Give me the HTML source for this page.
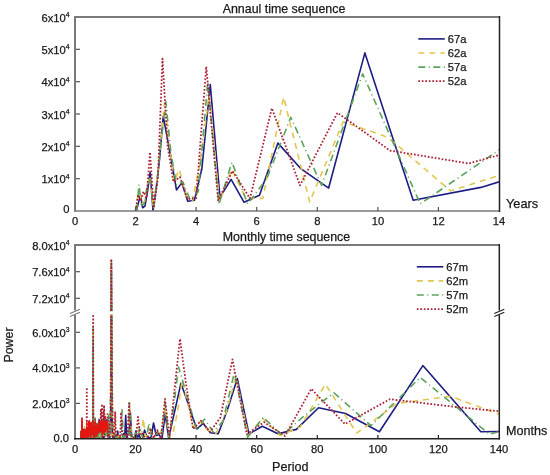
<!DOCTYPE html>
<html><head><meta charset="utf-8"><style>
html,body{margin:0;padding:0;background:#fff;}
body{width:550px;height:475px;overflow:hidden;}
svg{display:block;font-family:"Liberation Sans", sans-serif;}
svg{will-change:transform;}
text{stroke:#1a1a1a;stroke-width:0.25px;}
</style></head><body>
<svg width="550" height="475" viewBox="0 0 550 475">
<defs>
<clipPath id="c1"><rect x="75.0" y="17.0" width="424.0" height="194.0"/></clipPath>
<clipPath id="c2"><rect x="75.0" y="245.0" width="424.0" height="194.0"/></clipPath>
<clipPath id="c2d"><rect x="75.0" y="421" width="424.0" height="18.0"/></clipPath>
</defs>
<rect width="550" height="475" fill="#fff"/>
<polyline clip-path="url(#c1)" fill="none" stroke="#1c1c84" stroke-width="1.6" stroke-linejoin="round" points="136.49,211.00 138.41,202.92 140.46,194.83 142.64,207.77 144.97,206.15 147.47,191.60 150.15,172.20 153.04,211.00 156.17,188.37 159.55,159.27 163.22,116.26 167.23,137.60 171.63,161.85 176.46,189.98 181.80,182.87 187.73,201.30 194.36,200.33 201.82,168.97 210.28,84.58 219.94,197.42 231.09,179.31 244.10,202.27 259.47,195.16 277.91,143.10 300.46,168.32 328.64,188.04 364.88,52.89 413.19,200.33 480.83,187.40 582.29,156.68"/>
<polyline clip-path="url(#c1)" fill="none" stroke="#e2c650" stroke-width="1.6" stroke-dasharray="6 5" stroke-linejoin="round" points="135.57,211.00 137.59,198.07 139.75,191.60 142.06,204.53 144.54,201.30 147.22,185.13 150.11,175.43 153.24,207.77 156.64,181.90 160.35,146.33 164.41,102.68 168.89,139.87 173.83,181.90 179.32,169.29 185.45,194.83 192.36,201.30 200.18,162.50 209.12,94.60 219.44,201.30 231.48,168.97 245.70,198.07 262.77,198.39 283.63,97.19 309.71,201.95 343.24,121.76 387.95,137.28 450.54,190.95 544.43,160.88"/>
<polyline clip-path="url(#c1)" fill="none" stroke="#5ca25c" stroke-width="1.6" stroke-dasharray="7 3.5 1 3.5" stroke-linejoin="round" points="136.65,211.00 138.94,184.49 141.40,204.53 144.05,204.53 146.93,188.37 150.06,178.67 153.47,207.77 157.20,178.67 161.31,139.87 165.86,101.71 170.90,152.80 176.55,185.13 182.89,181.90 190.09,199.68 198.31,191.60 207.79,81.67 218.86,204.53 231.94,162.18 247.63,203.89 266.81,178.67 290.79,117.23 321.61,185.46 362.71,73.91 420.26,203.89 506.57,144.72"/>
<polyline clip-path="url(#c1)" fill="none" stroke="#ab2236" stroke-width="1.8" stroke-dasharray="1.7 1.8" stroke-linejoin="round" points="135.57,211.00 137.99,194.83 140.62,201.30 143.47,191.60 146.58,198.07 149.99,152.15 153.74,207.77 157.89,178.67 162.49,58.71 167.64,146.33 173.43,181.90 179.99,177.05 187.49,199.04 196.14,198.07 206.24,66.47 218.17,200.65 232.49,170.91 249.98,198.39 271.86,108.18 299.98,185.46 337.48,112.71 389.97,150.54 468.71,163.47 599.95,126.93"/>
<polyline clip-path="url(#c2)" fill="none" stroke="#1c1c84" stroke-width="1.6" stroke-linejoin="round" points="81.06,434.35 81.07,438.82 81.09,437.14 81.10,436.56 81.12,436.15 81.13,435.74 81.15,432.87 81.16,435.10 81.18,435.04 81.20,433.18 81.21,432.06 81.23,438.54 81.24,437.18 81.26,434.19 81.28,433.85 81.29,437.86 81.31,435.88 81.32,437.72 81.34,434.03 81.36,433.63 81.37,432.95 81.39,432.47 81.41,433.21 81.42,432.50 81.44,436.72 81.46,438.77 81.48,432.44 81.49,437.98 81.51,431.99 81.53,436.70 81.55,431.78 81.56,434.96 81.58,438.16 81.60,436.49 81.62,432.55 81.63,431.27 81.65,432.91 81.67,437.64 81.69,431.55 81.71,438.39 81.73,432.76 81.75,435.06 81.76,437.79 81.78,432.23 81.80,435.13 81.82,432.78 81.84,436.72 81.86,434.01 81.88,438.41 81.90,438.44 81.92,434.67 81.94,438.43 81.96,437.09 81.98,438.84 82.00,437.08 82.02,434.32 82.04,434.46 82.06,434.73 82.08,436.38 82.10,436.62 82.12,431.99 82.14,432.35 82.16,436.51 82.18,436.43 82.20,436.59 82.23,435.94 82.25,431.62 82.27,433.95 82.29,433.88 82.31,435.48 82.33,431.28 82.36,436.80 82.38,438.36 82.40,437.07 82.42,436.59 82.45,434.75 82.47,436.97 82.49,433.81 82.52,433.36 82.54,434.55 82.56,430.97 82.59,433.94 82.61,437.24 82.63,438.09 82.66,431.06 82.68,431.06 82.71,431.52 82.73,438.48 82.75,436.43 82.78,435.31 82.80,434.11 82.83,436.58 82.85,430.95 82.88,438.91 82.91,438.68 82.93,433.66 82.96,438.18 82.98,435.09 83.01,436.92 83.04,436.59 83.06,431.55 83.09,431.05 83.12,435.90 83.14,431.54 83.17,438.16 83.20,432.90 83.23,437.02 83.25,437.63 83.28,438.05 83.31,435.55 83.34,430.90 83.37,437.04 83.40,438.67 83.43,431.75 83.45,438.06 83.48,438.25 83.51,432.73 83.54,438.88 83.57,431.25 83.60,431.63 83.63,436.41 83.67,434.72 83.70,430.34 83.73,433.72 83.76,430.66 83.79,436.50 83.82,438.23 83.85,436.91 83.89,433.66 83.92,435.46 83.95,431.68 83.99,433.24 84.02,435.81 84.05,431.25 84.09,431.62 84.12,430.89 84.15,438.32 84.19,438.63 84.22,438.02 84.26,433.84 84.29,437.73 84.33,430.70 84.37,430.07 84.40,433.35 84.44,430.88 84.47,436.27 84.51,436.31 84.55,436.10 84.59,432.36 84.62,434.26 84.66,433.01 84.70,437.32 84.74,431.81 84.78,437.66 84.82,438.33 84.86,433.28 84.90,437.15 84.94,431.22 84.98,435.18 85.02,433.58 85.06,432.04 85.10,436.29 85.15,431.64 85.19,432.39 85.23,433.68 85.27,437.32 85.32,436.32 85.36,432.82 85.41,431.21 85.45,436.41 85.50,437.42 85.54,438.85 85.59,431.78 85.63,432.00 85.68,436.39 85.73,434.99 85.77,436.62 85.82,433.65 85.87,438.16 85.92,437.44 85.97,435.53 86.02,433.59 86.07,437.35 86.12,436.22 86.17,435.97 86.22,434.92 86.27,433.35 86.33,431.18 86.38,432.04 86.43,437.62 86.49,434.42 86.54,428.72 86.60,430.25 86.65,438.60 86.71,429.61 86.76,438.91 86.82,436.30 86.88,434.55 86.94,431.06 86.99,428.97 87.05,435.69 87.11,429.83 87.17,435.73 87.24,429.65 87.30,428.66 87.36,435.81 87.42,438.37 87.49,432.26 87.55,435.98 87.62,433.59 87.68,435.29 87.75,432.91 87.82,436.90 87.88,434.15 87.95,431.51 88.02,429.84 88.09,436.93 88.16,433.88 88.23,432.63 88.31,432.38 88.38,437.50 88.45,432.25 88.53,436.88 88.60,438.74 88.68,438.70 88.76,427.19 88.84,430.24 88.91,435.98 88.99,431.62 89.07,425.99 89.16,437.43 89.24,436.28 89.32,432.91 89.41,433.41 89.49,438.66 89.58,431.88 89.67,434.16 89.76,432.17 89.85,428.31 89.94,434.90 90.03,426.55 90.12,431.08 90.22,436.60 90.31,437.96 90.41,433.82 90.51,429.12 90.61,437.27 90.71,435.05 90.81,427.06 90.91,438.77 91.02,438.74 91.13,437.68 91.23,428.36 91.34,425.69 91.45,434.96 91.56,428.83 91.68,429.07 91.79,429.06 91.91,428.28 92.03,431.72 92.15,436.79 92.27,436.14 92.39,438.65 92.52,433.82 92.64,432.08 92.77,431.95 92.90,432.91 93.04,435.09 93.17,341.21 93.31,433.52 93.45,433.30 93.59,436.98 93.73,433.24 93.88,430.21 94.02,438.43 94.17,434.69 94.33,433.33 94.48,433.76 94.64,427.56 94.80,428.53 94.96,426.47 95.12,427.40 95.29,427.92 95.46,438.92 95.64,426.09 95.81,431.61 95.99,435.37 96.17,432.81 96.36,431.21 96.55,429.63 96.74,433.95 96.94,436.72 97.14,430.54 97.34,433.69 97.55,427.36 97.76,424.17 97.97,431.42 98.19,436.43 98.41,433.06 98.64,430.10 98.87,424.25 99.11,419.44 99.35,438.35 99.60,438.61 99.85,432.50 100.10,433.78 100.36,432.09 100.63,428.84 100.90,432.37 101.18,433.27 101.47,434.11 101.76,431.93 102.06,431.63 102.36,433.25 102.67,437.32 102.99,421.22 103.31,431.28 103.65,435.95 103.99,438.57 104.34,431.60 104.69,433.98 105.06,430.59 105.44,430.23 105.82,432.73 106.22,435.76 106.62,431.66 107.04,419.44 107.47,434.38 107.91,433.54 108.36,435.85 108.82,435.76 109.30,423.00 109.79,438.91 110.29,434.40 110.81,412.33 111.34,266.34 111.89,403.44 112.46,437.07 113.05,434.63 113.65,439.00 114.27,438.48 114.92,437.69 115.58,438.70 116.27,438.67 116.98,438.66 117.72,431.00 118.48,437.81 119.27,438.69 120.09,438.99 120.94,437.89 121.83,438.71 122.74,438.10 123.70,433.51 124.69,437.18 125.73,415.35 126.81,438.99 127.93,433.94 129.11,434.12 130.34,412.33 131.63,435.76 132.98,437.77 134.39,439.00 135.87,431.00 137.44,437.83 139.08,434.65 140.81,438.99 142.64,438.95 144.57,430.11 146.62,436.36 148.79,437.74 151.09,437.47 153.55,423.00 156.17,435.37 158.96,434.53 161.96,438.89 165.18,413.93 168.65,438.11 172.40,421.40 176.46,403.44 180.87,383.35 185.68,396.51 190.95,412.33 196.75,429.04 203.16,423.35 210.28,432.78 218.23,433.67 227.19,410.55 237.33,378.55 248.93,434.02 262.31,426.20 277.91,433.67 296.36,429.40 318.50,407.71 345.55,413.57 379.37,431.71 422.85,365.57 480.83,431.71 561.99,431.00"/>
<polyline clip-path="url(#c2)" fill="none" stroke="#e2c650" stroke-width="1.6" stroke-dasharray="6 5" stroke-linejoin="round" points="81.06,435.50 81.07,438.98 81.09,438.48 81.11,432.04 81.12,437.52 81.14,435.64 81.16,434.92 81.17,437.17 81.19,435.87 81.21,434.59 81.22,438.01 81.24,433.21 81.26,437.62 81.28,434.78 81.29,433.64 81.31,437.56 81.33,433.48 81.35,433.13 81.37,438.28 81.38,432.63 81.40,432.48 81.42,434.63 81.44,433.75 81.46,432.21 81.47,438.88 81.49,433.12 81.51,433.90 81.53,432.07 81.55,433.42 81.57,435.35 81.59,438.91 81.61,434.02 81.63,431.33 81.65,433.77 81.67,435.84 81.69,434.12 81.71,437.23 81.73,432.31 81.75,433.02 81.77,433.83 81.79,433.15 81.81,436.40 81.83,431.45 81.85,435.29 81.87,433.46 81.89,431.65 81.91,433.42 81.93,435.82 81.95,435.21 81.98,435.00 82.00,437.58 82.02,432.08 82.04,434.33 82.06,438.77 82.09,435.54 82.11,437.86 82.13,434.50 82.15,432.86 82.18,431.19 82.20,435.83 82.22,433.48 82.25,435.38 82.27,431.98 82.29,436.98 82.32,433.39 82.34,434.95 82.36,438.25 82.39,433.07 82.41,431.54 82.44,434.75 82.46,438.12 82.49,434.89 82.51,435.40 82.54,433.42 82.56,433.51 82.59,437.10 82.61,436.57 82.64,437.95 82.66,433.69 82.69,430.90 82.72,431.66 82.74,438.29 82.77,438.45 82.80,435.59 82.82,437.80 82.85,430.83 82.88,436.08 82.91,438.21 82.93,432.30 82.96,434.20 82.99,431.47 83.02,433.44 83.05,435.50 83.08,436.87 83.11,435.00 83.13,437.10 83.16,436.57 83.19,432.15 83.22,431.36 83.25,432.41 83.28,431.18 83.31,435.09 83.35,434.69 83.38,436.80 83.41,432.46 83.44,435.26 83.47,436.07 83.50,434.34 83.54,432.23 83.57,431.73 83.60,432.83 83.63,438.77 83.67,432.52 83.70,430.02 83.73,433.00 83.77,431.04 83.80,438.25 83.84,437.86 83.87,437.86 83.91,435.30 83.94,431.95 83.98,434.66 84.01,435.33 84.05,433.65 84.09,437.20 84.12,431.93 84.16,438.28 84.20,430.25 84.23,435.51 84.27,436.34 84.31,438.31 84.35,433.49 84.39,437.05 84.43,434.45 84.47,435.16 84.51,426.55 84.55,438.88 84.59,433.69 84.63,432.37 84.67,436.59 84.71,438.20 84.75,433.59 84.80,438.85 84.84,436.06 84.88,431.24 84.93,436.71 84.97,434.18 85.01,431.73 85.06,434.90 85.10,436.11 85.15,432.67 85.20,438.26 85.24,437.57 85.29,434.86 85.34,435.70 85.38,438.60 85.43,434.41 85.48,434.96 85.53,435.52 85.58,433.15 85.63,431.27 85.68,431.72 85.73,437.29 85.78,433.85 85.83,436.51 85.89,435.27 85.94,434.82 85.99,437.26 86.05,437.14 86.10,437.54 86.15,438.20 86.21,437.07 86.27,433.19 86.32,438.11 86.38,435.72 86.44,438.72 86.50,438.96 86.56,433.38 86.61,434.48 86.67,436.26 86.74,431.42 86.80,430.45 86.86,432.33 86.92,432.69 86.99,436.32 87.05,434.25 87.11,436.52 87.18,428.38 87.25,429.02 87.31,428.50 87.38,433.57 87.45,432.22 87.52,438.10 87.59,437.49 87.66,438.68 87.73,438.47 87.80,437.68 87.88,433.76 87.95,438.83 88.02,435.06 88.10,433.31 88.18,436.57 88.25,429.99 88.33,437.65 88.41,434.16 88.49,435.31 88.57,430.54 88.66,437.16 88.74,421.22 88.82,432.52 88.91,437.52 89.00,434.43 89.08,429.45 89.17,435.74 89.26,432.16 89.35,428.80 89.44,426.53 89.54,427.65 89.63,425.45 89.73,427.88 89.82,427.49 89.92,432.26 90.02,438.54 90.12,433.93 90.22,437.30 90.33,427.84 90.43,429.76 90.54,433.56 90.65,438.43 90.76,436.61 90.87,423.35 90.98,438.32 91.09,432.90 91.21,428.07 91.33,436.10 91.45,436.52 91.57,428.87 91.69,435.82 91.82,438.74 91.94,429.92 92.07,438.68 92.20,427.11 92.33,437.97 92.47,430.62 92.60,437.06 92.74,434.91 92.88,438.64 93.03,430.90 93.17,332.32 93.32,429.05 93.47,436.62 93.62,436.52 93.78,430.37 93.93,433.72 94.10,437.93 94.26,430.15 94.42,436.71 94.59,435.14 94.77,429.77 94.94,438.17 95.12,428.47 95.30,436.29 95.48,426.17 95.67,429.21 95.86,427.94 96.06,437.98 96.26,430.60 96.46,426.40 96.67,433.97 96.88,436.96 97.09,423.89 97.31,433.22 97.53,429.16 97.76,431.18 97.99,431.38 98.23,428.33 98.47,424.54 98.72,434.36 98.97,425.33 99.23,434.98 99.49,425.38 99.76,436.80 100.04,429.72 100.32,434.69 100.61,436.11 100.90,432.65 101.20,429.56 101.51,429.35 101.82,433.05 102.15,434.17 102.48,429.57 102.82,430.45 103.17,435.57 103.52,428.56 103.89,432.71 104.26,427.38 104.65,414.11 105.04,433.73 105.45,434.42 105.87,431.37 106.30,430.96 106.74,437.23 107.19,428.46 107.66,429.42 108.14,438.22 108.63,435.12 109.14,435.38 109.67,433.89 110.21,435.64 110.77,394.55 111.34,260.34 111.94,367.88 112.55,436.17 113.19,432.79 113.85,437.38 114.53,421.22 115.24,438.34 115.97,439.00 116.73,438.65 117.51,437.04 118.33,437.28 119.18,434.05 120.07,438.10 120.98,438.37 121.94,437.66 122.94,439.00 123.98,438.99 125.07,438.55 126.21,437.77 127.40,437.16 128.65,435.04 129.96,408.77 131.33,435.75 132.78,438.04 134.30,437.85 135.90,438.84 137.59,436.90 139.38,436.71 141.27,436.72 143.28,418.55 145.41,436.21 147.69,435.63 150.11,428.33 152.70,438.96 155.47,438.98 158.45,436.26 161.66,430.11 165.13,407.00 168.89,437.22 172.97,433.67 177.42,412.33 182.30,379.79 187.66,403.44 193.59,428.33 200.18,421.22 207.54,430.11 215.83,433.67 225.22,415.89 235.95,376.77 248.33,435.44 262.77,418.55 279.84,435.44 300.33,426.91 325.36,384.06 356.66,433.13 396.89,403.44 450.54,396.33 525.65,424.06"/>
<polyline clip-path="url(#c2)" fill="none" stroke="#5ca25c" stroke-width="1.6" stroke-dasharray="7 3.5 1 3.5" stroke-linejoin="round" points="81.06,433.25 81.07,434.83 81.09,432.14 81.11,432.98 81.13,434.15 81.15,432.92 81.17,438.13 81.18,432.94 81.20,438.83 81.22,437.71 81.24,432.66 81.26,438.28 81.28,438.34 81.30,438.68 81.32,433.42 81.33,437.97 81.35,438.96 81.37,434.77 81.39,438.26 81.41,434.94 81.43,433.72 81.45,434.19 81.47,433.29 81.49,432.61 81.51,433.80 81.53,432.62 81.56,438.03 81.58,435.36 81.60,436.94 81.62,432.79 81.64,431.95 81.66,436.06 81.68,431.65 81.70,432.10 81.73,435.66 81.75,435.67 81.77,438.44 81.79,433.54 81.81,434.79 81.84,437.08 81.86,435.38 81.88,433.55 81.91,435.70 81.93,433.48 81.95,435.11 81.97,436.08 82.00,435.61 82.02,434.11 82.05,432.71 82.07,436.02 82.09,432.86 82.12,434.26 82.14,436.07 82.17,437.60 82.19,438.37 82.22,436.02 82.24,433.38 82.27,434.64 82.29,438.03 82.32,436.42 82.35,437.50 82.37,436.17 82.40,434.40 82.42,433.92 82.45,436.24 82.48,436.53 82.51,436.41 82.53,434.89 82.56,438.29 82.59,432.00 82.62,431.02 82.64,438.44 82.67,437.98 82.70,437.96 82.73,438.55 82.76,438.99 82.79,432.64 82.82,435.13 82.85,435.53 82.88,434.68 82.91,436.80 82.94,436.78 82.97,438.59 83.00,431.93 83.03,433.85 83.06,438.94 83.09,432.25 83.12,432.40 83.16,431.45 83.19,432.51 83.22,437.60 83.25,432.31 83.29,434.62 83.32,437.38 83.35,436.12 83.39,432.59 83.42,435.09 83.46,431.94 83.49,436.93 83.52,435.81 83.56,433.27 83.60,430.21 83.63,435.13 83.67,434.09 83.70,432.80 83.74,436.19 83.78,437.39 83.82,432.03 83.85,438.88 83.89,433.60 83.93,430.58 83.97,430.61 84.01,430.35 84.05,432.51 84.09,430.54 84.13,438.58 84.17,431.42 84.21,436.31 84.25,433.49 84.29,438.36 84.33,436.87 84.37,435.81 84.42,436.29 84.46,434.14 84.50,433.77 84.55,432.40 84.59,433.12 84.64,437.25 84.68,431.68 84.73,431.50 84.77,435.57 84.82,431.21 84.86,432.06 84.91,431.56 84.96,438.96 85.01,437.77 85.06,431.74 85.11,435.77 85.15,435.69 85.20,435.71 85.26,436.27 85.31,436.86 85.36,432.74 85.41,436.70 85.46,437.98 85.52,436.23 85.57,432.53 85.62,433.85 85.68,432.52 85.73,436.76 85.79,437.53 85.85,432.27 85.90,432.52 85.96,437.47 86.02,434.75 86.08,438.03 86.14,437.19 86.20,435.38 86.26,431.90 86.32,433.78 86.38,436.30 86.44,437.64 86.51,429.86 86.57,434.32 86.64,430.10 86.70,435.44 86.77,435.56 86.84,437.91 86.91,431.54 86.97,434.35 87.04,437.00 87.11,436.45 87.19,430.41 87.26,436.62 87.33,435.69 87.40,431.15 87.48,432.92 87.55,438.75 87.63,431.75 87.71,435.46 87.79,436.18 87.87,433.41 87.95,435.53 88.03,436.06 88.11,435.58 88.19,435.99 88.28,433.43 88.36,434.71 88.45,436.64 88.54,425.07 88.63,429.23 88.72,438.12 88.81,438.68 88.90,428.33 89.00,428.78 89.09,433.90 89.19,429.18 89.29,432.26 89.39,429.93 89.49,438.13 89.59,429.50 89.69,429.75 89.80,438.70 89.90,430.29 90.01,432.76 90.12,438.83 90.23,430.76 90.34,431.17 90.46,424.31 90.58,434.24 90.69,435.24 90.81,427.61 90.93,432.18 91.06,424.78 91.18,424.13 91.31,429.20 91.44,430.16 91.57,431.58 91.71,430.98 91.84,432.52 91.98,433.27 92.12,434.30 92.26,427.83 92.41,427.06 92.56,435.45 92.71,429.19 92.86,438.52 93.01,437.23 93.17,326.99 93.33,434.39 93.50,436.77 93.66,438.68 93.83,432.94 94.00,438.22 94.18,435.87 94.36,428.91 94.54,431.86 94.73,425.14 94.92,426.55 95.11,434.32 95.31,416.06 95.51,438.39 95.72,430.71 95.92,438.40 96.14,427.23 96.36,428.63 96.58,436.11 96.81,437.52 97.04,434.96 97.27,431.13 97.52,437.66 97.76,424.05 98.02,423.00 98.28,438.04 98.54,434.72 98.81,430.39 99.09,426.52 99.37,435.83 99.66,429.53 99.96,431.45 100.26,427.00 100.57,426.41 100.89,427.77 101.22,436.87 101.56,431.96 101.90,428.61 102.26,430.02 102.62,430.00 102.99,432.39 103.38,430.24 103.77,431.66 104.18,431.65 104.59,435.51 105.02,435.17 105.46,417.66 105.92,435.79 106.39,432.32 106.87,434.22 107.37,428.42 107.88,438.71 108.41,415.89 108.96,438.94 109.53,434.19 110.11,433.55 110.72,385.66 111.34,263.00 111.99,346.54 112.66,433.72 113.36,435.83 114.09,434.19 114.84,435.78 115.62,437.61 116.43,434.34 117.28,438.99 118.16,438.44 119.08,436.83 120.03,435.42 121.03,438.97 122.08,409.84 123.18,435.58 124.32,437.30 125.53,434.31 126.79,436.49 128.12,438.86 129.51,402.73 130.99,437.59 132.54,434.65 134.19,437.62 135.93,432.83 137.77,438.66 139.74,426.55 141.82,434.64 144.05,439.00 146.43,438.97 148.98,423.00 151.72,436.73 154.67,438.15 157.86,431.89 161.31,438.65 165.07,403.44 169.16,437.22 173.64,407.00 178.58,366.99 184.03,385.66 190.09,407.00 196.86,430.11 204.47,419.09 213.10,431.89 222.97,421.22 234.35,372.50 247.63,437.22 263.32,417.31 282.15,435.44 305.17,415.00 333.94,392.77 370.93,425.67 420.26,377.48 489.31,434.20 592.89,407.53"/>
<polyline clip-path="url(#c2)" fill="none" stroke="#ab2236" stroke-width="1.8" stroke-dasharray="1.7 1.8" stroke-linejoin="round" points="81.06,431.23 81.08,431.96 81.10,432.00 81.12,431.85 81.14,431.24 81.16,438.23 81.18,438.16 81.20,435.11 81.22,434.91 81.24,432.80 81.26,436.14 81.28,431.31 81.30,434.37 81.32,437.07 81.34,432.99 81.36,434.74 81.38,433.25 81.41,434.58 81.43,431.48 81.45,436.16 81.47,431.95 81.49,436.50 81.52,437.05 81.54,436.40 81.56,432.19 81.58,434.26 81.61,431.54 81.63,436.31 81.65,433.66 81.68,432.50 81.70,431.45 81.73,430.99 81.75,434.72 81.77,430.75 81.80,433.48 81.82,430.74 81.85,434.65 81.87,432.52 81.90,432.10 81.92,432.41 81.95,430.35 81.97,431.56 82.00,418.20 82.03,431.10 82.05,435.25 82.08,437.15 82.10,433.36 82.13,431.87 82.16,433.34 82.19,432.94 82.21,434.67 82.24,438.61 82.27,431.90 82.30,430.79 82.32,432.96 82.35,434.45 82.38,433.29 82.41,436.21 82.44,435.92 82.47,430.95 82.50,436.02 82.53,431.05 82.56,433.57 82.59,430.82 82.62,434.56 82.65,435.58 82.68,430.56 82.71,437.20 82.75,431.18 82.78,430.70 82.81,433.48 82.84,432.91 82.87,430.54 82.91,432.16 82.94,436.52 82.97,436.78 83.01,430.08 83.04,433.09 83.08,435.19 83.11,434.48 83.15,431.11 83.18,433.90 83.22,432.69 83.25,436.92 83.29,430.87 83.33,430.82 83.36,438.41 83.40,432.83 83.44,431.23 83.47,434.05 83.51,435.82 83.55,431.28 83.59,429.47 83.63,432.23 83.67,431.39 83.71,437.63 83.75,437.83 83.79,431.92 83.83,432.38 83.87,430.09 83.91,429.29 83.96,433.65 84.00,430.81 84.04,435.02 84.09,429.38 84.13,431.73 84.17,429.38 84.22,430.02 84.26,429.84 84.31,436.15 84.36,429.39 84.40,438.23 84.45,429.09 84.50,438.66 84.54,435.48 84.59,430.62 84.64,431.64 84.69,432.75 84.74,432.32 84.79,436.00 84.84,437.37 84.89,432.12 84.95,430.40 85.00,436.45 85.05,430.77 85.11,437.64 85.16,432.12 85.22,430.43 85.27,430.39 85.33,437.16 85.38,430.46 85.44,430.64 85.50,435.02 85.56,431.89 85.62,432.08 85.68,432.92 85.74,431.11 85.80,432.16 85.86,431.20 85.92,432.07 85.99,434.36 86.05,430.49 86.12,430.63 86.18,430.78 86.25,435.49 86.32,436.86 86.38,433.16 86.45,431.53 86.52,428.69 86.59,429.80 86.67,427.85 86.74,432.12 86.81,387.44 86.89,430.57 86.96,427.65 87.04,437.00 87.11,435.33 87.19,428.09 87.27,434.07 87.35,434.37 87.43,433.93 87.52,434.41 87.60,437.69 87.68,432.13 87.77,429.66 87.86,429.27 87.94,434.47 88.03,432.79 88.12,437.56 88.22,432.88 88.31,434.55 88.40,432.30 88.50,422.11 88.60,429.60 88.69,425.23 88.79,428.03 88.90,434.45 89.00,422.96 89.10,432.02 89.21,428.52 89.32,420.15 89.43,433.86 89.54,425.79 89.65,433.26 89.76,436.06 89.88,435.93 90.00,432.49 90.12,429.02 90.24,422.49 90.36,434.88 90.49,431.05 90.62,429.44 90.75,423.82 90.88,432.94 91.02,436.27 91.15,437.93 91.29,429.95 91.43,421.84 91.58,431.24 91.72,434.81 91.87,430.50 92.03,433.87 92.18,432.37 92.34,426.73 92.50,428.61 92.66,426.88 92.83,431.64 93.00,428.22 93.17,315.96 93.35,433.04 93.53,437.99 93.71,428.04 93.90,429.66 94.09,428.08 94.28,428.48 94.48,429.95 94.69,436.63 94.89,429.16 95.10,419.44 95.32,430.91 95.54,432.68 95.77,427.80 96.00,426.24 96.23,423.00 96.48,436.19 96.72,436.24 96.97,428.71 97.23,431.29 97.50,433.48 97.77,424.91 98.05,429.97 98.33,431.24 98.62,426.33 98.92,421.22 99.23,429.20 99.54,433.46 99.87,424.29 100.20,431.25 100.54,429.77 100.89,408.77 101.25,432.24 101.62,430.20 102.00,403.97 102.39,437.23 102.79,429.50 103.21,412.33 103.63,434.33 104.07,405.22 104.53,430.88 105.00,415.89 105.48,431.64 105.98,428.26 106.50,419.44 107.03,430.29 107.58,414.11 108.15,438.44 108.75,437.13 109.36,434.34 110.00,433.56 110.66,399.88 111.34,259.00 112.06,385.66 112.80,437.41 113.57,436.19 114.37,436.72 115.21,411.44 116.08,435.91 117.00,434.45 117.95,435.67 118.95,436.55 120.00,438.40 121.09,412.33 122.25,435.01 123.46,434.95 124.73,434.72 126.08,433.65 127.50,438.71 129.00,403.44 130.58,438.81 132.27,438.52 134.06,437.21 135.96,438.69 137.99,416.95 140.17,435.01 142.49,433.76 144.99,438.00 147.69,438.97 150.59,428.33 153.74,438.02 157.17,430.11 160.90,438.65 164.99,399.00 169.49,438.11 174.46,389.93 179.99,338.90 186.17,384.95 193.11,429.04 200.99,420.69 209.99,431.89 220.37,417.66 232.49,359.35 246.80,434.38 263.98,422.11 284.98,435.98 311.23,388.86 344.98,424.06 389.97,399.17 452.97,406.64 547.46,416.06"/>
<polyline clip-path="url(#c2d)" fill="none" stroke="#e3170f" stroke-width="1.1" points="81.06,431.23 81.08,431.96 81.10,432.00 81.12,431.85 81.14,431.24 81.16,438.23 81.18,438.16 81.20,435.11 81.22,434.91 81.24,432.80 81.26,436.14 81.28,431.31 81.30,434.37 81.32,437.07 81.34,432.99 81.36,434.74 81.38,433.25 81.41,434.58 81.43,431.48 81.45,436.16 81.47,431.95 81.49,436.50 81.52,437.05 81.54,436.40 81.56,432.19 81.58,434.26 81.61,431.54 81.63,436.31 81.65,433.66 81.68,432.50 81.70,431.45 81.73,430.99 81.75,434.72 81.77,430.75 81.80,433.48 81.82,430.74 81.85,434.65 81.87,432.52 81.90,432.10 81.92,432.41 81.95,430.35 81.97,431.56 82.00,418.20 82.03,431.10 82.05,435.25 82.08,437.15 82.10,433.36 82.13,431.87 82.16,433.34 82.19,432.94 82.21,434.67 82.24,438.61 82.27,431.90 82.30,430.79 82.32,432.96 82.35,434.45 82.38,433.29 82.41,436.21 82.44,435.92 82.47,430.95 82.50,436.02 82.53,431.05 82.56,433.57 82.59,430.82 82.62,434.56 82.65,435.58 82.68,430.56 82.71,437.20 82.75,431.18 82.78,430.70 82.81,433.48 82.84,432.91 82.87,430.54 82.91,432.16 82.94,436.52 82.97,436.78 83.01,430.08 83.04,433.09 83.08,435.19 83.11,434.48 83.15,431.11 83.18,433.90 83.22,432.69 83.25,436.92 83.29,430.87 83.33,430.82 83.36,438.41 83.40,432.83 83.44,431.23 83.47,434.05 83.51,435.82 83.55,431.28 83.59,429.47 83.63,432.23 83.67,431.39 83.71,437.63 83.75,437.83 83.79,431.92 83.83,432.38 83.87,430.09 83.91,429.29 83.96,433.65 84.00,430.81 84.04,435.02 84.09,429.38 84.13,431.73 84.17,429.38 84.22,430.02 84.26,429.84 84.31,436.15 84.36,429.39 84.40,438.23 84.45,429.09 84.50,438.66 84.54,435.48 84.59,430.62 84.64,431.64 84.69,432.75 84.74,432.32 84.79,436.00 84.84,437.37 84.89,432.12 84.95,430.40 85.00,436.45 85.05,430.77 85.11,437.64 85.16,432.12 85.22,430.43 85.27,430.39 85.33,437.16 85.38,430.46 85.44,430.64 85.50,435.02 85.56,431.89 85.62,432.08 85.68,432.92 85.74,431.11 85.80,432.16 85.86,431.20 85.92,432.07 85.99,434.36 86.05,430.49 86.12,430.63 86.18,430.78 86.25,435.49 86.32,436.86 86.38,433.16 86.45,431.53 86.52,428.69 86.59,429.80 86.67,427.85 86.74,432.12 86.81,387.44 86.89,430.57 86.96,427.65 87.04,437.00 87.11,435.33 87.19,428.09 87.27,434.07 87.35,434.37 87.43,433.93 87.52,434.41 87.60,437.69 87.68,432.13 87.77,429.66 87.86,429.27 87.94,434.47 88.03,432.79 88.12,437.56 88.22,432.88 88.31,434.55 88.40,432.30 88.50,422.11 88.60,429.60 88.69,425.23 88.79,428.03 88.90,434.45 89.00,422.96 89.10,432.02 89.21,428.52 89.32,420.15 89.43,433.86 89.54,425.79 89.65,433.26 89.76,436.06 89.88,435.93 90.00,432.49 90.12,429.02 90.24,422.49 90.36,434.88 90.49,431.05 90.62,429.44 90.75,423.82 90.88,432.94 91.02,436.27 91.15,437.93 91.29,429.95 91.43,421.84 91.58,431.24 91.72,434.81 91.87,430.50 92.03,433.87 92.18,432.37 92.34,426.73 92.50,428.61 92.66,426.88 92.83,431.64 93.00,428.22 93.17,315.96 93.35,433.04 93.53,437.99 93.71,428.04 93.90,429.66 94.09,428.08 94.28,428.48 94.48,429.95 94.69,436.63 94.89,429.16 95.10,419.44 95.32,430.91 95.54,432.68 95.77,427.80 96.00,426.24 96.23,423.00 96.48,436.19 96.72,436.24 96.97,428.71 97.23,431.29 97.50,433.48 97.77,424.91 98.05,429.97 98.33,431.24 98.62,426.33 98.92,421.22 99.23,429.20 99.54,433.46 99.87,424.29 100.20,431.25 100.54,429.77 100.89,408.77 101.25,432.24 101.62,430.20 102.00,403.97 102.39,437.23 102.79,429.50 103.21,412.33 103.63,434.33 104.07,405.22 104.53,430.88 105.00,415.89 105.48,431.64 105.98,428.26 106.50,419.44 107.03,430.29 107.58,414.11 108.15,438.44"/>
<path d="M81.9,439 V418.3" stroke="#e3170f" stroke-width="1.4" fill="none"/>
<rect x="76.0" y="311.3" width="422.0" height="3.0" fill="#fff"/>
<path d="M75,17 H499" stroke="#7a7a7a" stroke-width="2" fill="none"/>
<path d="M75,16 V211.5" stroke="#7a7a7a" stroke-width="2" fill="none"/>
<path d="M74,211 H500" stroke="#7a7a7a" stroke-width="1.5" fill="none"/>
<path d="M499.5,16 V212" stroke="#222" stroke-width="1.5" fill="none"/>
<path d="M76,178.7 H80" stroke="#555" stroke-width="1.2" fill="none"/>
<path d="M76,146.3 H80" stroke="#555" stroke-width="1.2" fill="none"/>
<path d="M76,114.0 H80" stroke="#555" stroke-width="1.2" fill="none"/>
<path d="M76,81.7 H80" stroke="#555" stroke-width="1.2" fill="none"/>
<path d="M76,49.3 H80" stroke="#555" stroke-width="1.2" fill="none"/>
<path d="M135.6,211 V207" stroke="#555" stroke-width="1.2" fill="none"/>
<path d="M196.1,211 V207" stroke="#555" stroke-width="1.2" fill="none"/>
<path d="M256.7,211 V207" stroke="#555" stroke-width="1.2" fill="none"/>
<path d="M317.3,211 V207" stroke="#555" stroke-width="1.2" fill="none"/>
<path d="M377.9,211 V207" stroke="#555" stroke-width="1.2" fill="none"/>
<path d="M438.4,211 V207" stroke="#555" stroke-width="1.2" fill="none"/>
<path d="M75,245 H499" stroke="#7a7a7a" stroke-width="2" fill="none"/>
<path d="M75,244 V310.5 M75,315 V439.5" stroke="#7a7a7a" stroke-width="2" fill="none"/>
<path d="M74,438.8 H500" stroke="#222" stroke-width="1.5" fill="none"/>
<path d="M499.3,244 V310.5 M499.3,315 V439.5" stroke="#222" stroke-width="1.5" fill="none"/>
<path d="M70,313.5 L80,309.3 M70,316.5 L80,312.3" stroke="#7a7a7a" stroke-width="1.2" fill="none"/>
<path d="M494.3,313.5 L504.3,309.3 M494.3,316.5 L504.3,312.3" stroke="#222" stroke-width="1.2" fill="none"/>
<path d="M76,271.7 H80" stroke="#555" stroke-width="1.2" fill="none"/>
<path d="M76,298.3 H80" stroke="#555" stroke-width="1.2" fill="none"/>
<path d="M76,403.4 H80" stroke="#555" stroke-width="1.2" fill="none"/>
<path d="M76,367.9 H80" stroke="#555" stroke-width="1.2" fill="none"/>
<path d="M76,332.3 H80" stroke="#555" stroke-width="1.2" fill="none"/>
<path d="M135.6,439 V435" stroke="#222" stroke-width="1.2" fill="none"/>
<path d="M196.1,439 V435" stroke="#222" stroke-width="1.2" fill="none"/>
<path d="M256.7,439 V435" stroke="#222" stroke-width="1.2" fill="none"/>
<path d="M317.3,439 V435" stroke="#222" stroke-width="1.2" fill="none"/>
<path d="M377.9,439 V435" stroke="#222" stroke-width="1.2" fill="none"/>
<path d="M438.4,439 V435" stroke="#222" stroke-width="1.2" fill="none"/>
<text x="69.5" y="183.2" text-anchor="end" font-size="11.2" fill="#1a1a1a">1x10<tspan font-size="6.8" dy="-4.6">4</tspan></text>
<text x="69.5" y="150.8" text-anchor="end" font-size="11.2" fill="#1a1a1a">2x10<tspan font-size="6.8" dy="-4.6">4</tspan></text>
<text x="69.5" y="118.5" text-anchor="end" font-size="11.2" fill="#1a1a1a">3x10<tspan font-size="6.8" dy="-4.6">4</tspan></text>
<text x="69.5" y="86.2" text-anchor="end" font-size="11.2" fill="#1a1a1a">4x10<tspan font-size="6.8" dy="-4.6">4</tspan></text>
<text x="69.5" y="53.8" text-anchor="end" font-size="11.2" fill="#1a1a1a">5x10<tspan font-size="6.8" dy="-4.6">4</tspan></text>
<text x="69.5" y="21.5" text-anchor="end" font-size="11.2" fill="#1a1a1a">6x10<tspan font-size="6.8" dy="-4.6">4</tspan></text>
<text x="69.4" y="213.0" text-anchor="end" font-size="11.2" fill="#1a1a1a">0</text>
<text x="75.0" y="225.3" text-anchor="middle" font-size="11.2" fill="#1a1a1a">0</text>
<text x="135.6" y="225.3" text-anchor="middle" font-size="11.2" fill="#1a1a1a">2</text>
<text x="196.1" y="225.3" text-anchor="middle" font-size="11.2" fill="#1a1a1a">4</text>
<text x="256.7" y="225.3" text-anchor="middle" font-size="11.2" fill="#1a1a1a">6</text>
<text x="317.3" y="225.3" text-anchor="middle" font-size="11.2" fill="#1a1a1a">8</text>
<text x="377.9" y="225.3" text-anchor="middle" font-size="11.2" fill="#1a1a1a">10</text>
<text x="438.4" y="225.3" text-anchor="middle" font-size="11.2" fill="#1a1a1a">12</text>
<text x="499.0" y="225.3" text-anchor="middle" font-size="11.2" fill="#1a1a1a">14</text>
<text x="506.0" y="207.8" text-anchor="start" font-size="12.8" fill="#1a1a1a">Years</text>
<text x="284.0" y="13.0" text-anchor="middle" font-size="12.4" fill="#1a1a1a">Annaul time sequence</text>
<text x="69.5" y="249.5" text-anchor="end" font-size="11.2" fill="#1a1a1a">8.0x10<tspan font-size="6.8" dy="-4.6">4</tspan></text>
<text x="69.5" y="276.2" text-anchor="end" font-size="11.2" fill="#1a1a1a">7.6x10<tspan font-size="6.8" dy="-4.6">4</tspan></text>
<text x="69.5" y="302.8" text-anchor="end" font-size="11.2" fill="#1a1a1a">7.2x10<tspan font-size="6.8" dy="-4.6">4</tspan></text>
<text x="69.5" y="336.8" text-anchor="end" font-size="11.2" fill="#1a1a1a">6.0x10<tspan font-size="6.8" dy="-4.6">3</tspan></text>
<text x="69.5" y="372.4" text-anchor="end" font-size="11.2" fill="#1a1a1a">4.0x10<tspan font-size="6.8" dy="-4.6">3</tspan></text>
<text x="69.5" y="407.9" text-anchor="end" font-size="11.2" fill="#1a1a1a">2.0x10<tspan font-size="6.8" dy="-4.6">3</tspan></text>
<text x="69.0" y="442.2" text-anchor="end" font-size="11.2" fill="#1a1a1a">0.0</text>
<text x="75.0" y="453.3" text-anchor="middle" font-size="11.2" fill="#1a1a1a">0</text>
<text x="135.6" y="453.3" text-anchor="middle" font-size="11.2" fill="#1a1a1a">20</text>
<text x="196.1" y="453.3" text-anchor="middle" font-size="11.2" fill="#1a1a1a">40</text>
<text x="256.7" y="453.3" text-anchor="middle" font-size="11.2" fill="#1a1a1a">60</text>
<text x="317.3" y="453.3" text-anchor="middle" font-size="11.2" fill="#1a1a1a">80</text>
<text x="377.9" y="453.3" text-anchor="middle" font-size="11.2" fill="#1a1a1a">100</text>
<text x="438.4" y="453.3" text-anchor="middle" font-size="11.2" fill="#1a1a1a">120</text>
<text x="499.0" y="453.3" text-anchor="middle" font-size="11.2" fill="#1a1a1a">140</text>
<text x="506.0" y="435.2" text-anchor="start" font-size="12.6" fill="#1a1a1a">Months</text>
<text x="286.5" y="241.0" text-anchor="middle" font-size="12.4" fill="#1a1a1a">Monthly time sequence</text>
<text x="290.3" y="471.2" text-anchor="middle" font-size="12.6" fill="#1a1a1a">Period</text>
<text x="0" y="0" transform="translate(12.6,345) rotate(-90)" text-anchor="middle" font-size="12.4" fill="#1a1a1a">Power</text>
<path d="M418.3,38.9 H444.8" stroke="#1c1c84" stroke-width="1.6" fill="none"/>
<text x="447.8" y="42.9" text-anchor="start" font-size="11.2" fill="#1a1a1a">67a</text>
<path d="M418.3,53.0 H444.8" stroke="#e2c650" stroke-width="1.6" stroke-dasharray="6 5" fill="none"/>
<text x="447.8" y="57.0" text-anchor="start" font-size="11.2" fill="#1a1a1a">62a</text>
<path d="M418.3,67.1 H444.8" stroke="#5ca25c" stroke-width="1.6" stroke-dasharray="7 3.5 1 3.5" fill="none"/>
<text x="447.8" y="71.1" text-anchor="start" font-size="11.2" fill="#1a1a1a">57a</text>
<path d="M418.3,81.2 H444.8" stroke="#ab2236" stroke-width="1.8" stroke-dasharray="1.7 1.8" fill="none"/>
<text x="447.8" y="85.2" text-anchor="start" font-size="11.2" fill="#1a1a1a">52a</text>
<path d="M416.8,266.8 H443.3" stroke="#1c1c84" stroke-width="1.6" fill="none"/>
<text x="446.3" y="270.8" text-anchor="start" font-size="11.2" fill="#1a1a1a">67m</text>
<path d="M416.8,280.9 H443.3" stroke="#e2c650" stroke-width="1.6" stroke-dasharray="6 5" fill="none"/>
<text x="446.3" y="284.9" text-anchor="start" font-size="11.2" fill="#1a1a1a">62m</text>
<path d="M416.8,295.0 H443.3" stroke="#5ca25c" stroke-width="1.6" stroke-dasharray="7 3.5 1 3.5" fill="none"/>
<text x="446.3" y="299.0" text-anchor="start" font-size="11.2" fill="#1a1a1a">57m</text>
<path d="M416.8,309.1 H443.3" stroke="#ab2236" stroke-width="1.8" stroke-dasharray="1.7 1.8" fill="none"/>
<text x="446.3" y="313.1" text-anchor="start" font-size="11.2" fill="#1a1a1a">52m</text>
</svg>
</body></html>
